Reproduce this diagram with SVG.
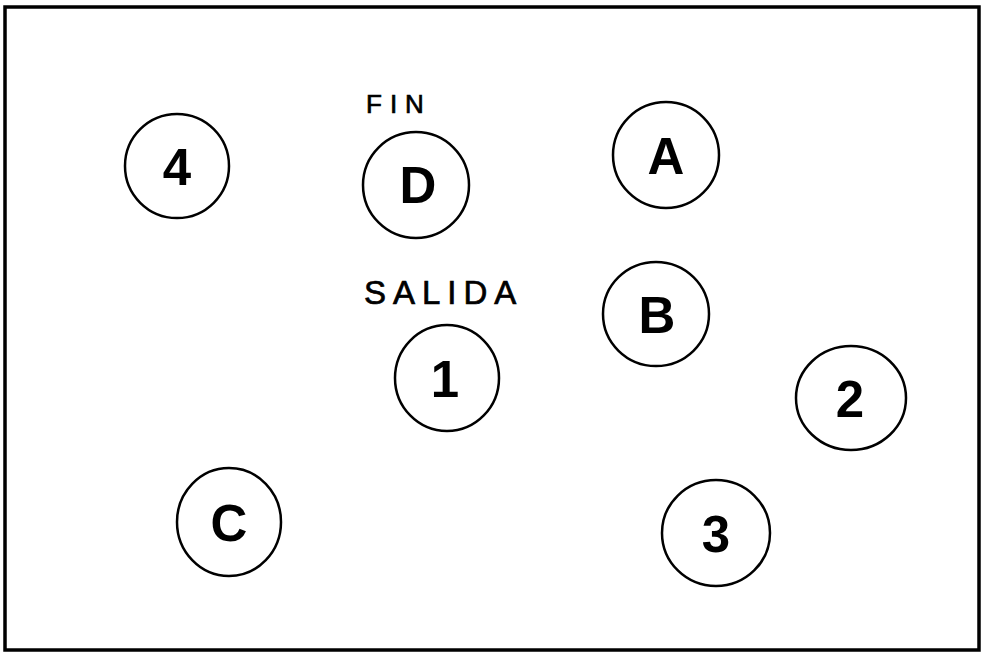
<svg xmlns="http://www.w3.org/2000/svg" width="982" height="653" viewBox="0 0 982 653">
<style>
.node ellipse{fill:#fff;stroke:#000;stroke-width:2.5}
.node text{font-family:"Liberation Sans",Arial,sans-serif;font-weight:bold;font-size:51px;text-anchor:middle;fill:#000}
.lbl{font-family:"Liberation Sans",Arial,sans-serif;fill:#000;stroke:#000;stroke-width:0.7}
</style>
<rect x="0" y="0" width="982" height="653" fill="#fff"/>
<rect x="5" y="7" width="974" height="643" fill="none" stroke="#000" stroke-width="3.5"/>
<g id="connectors"></g>
<text class="lbl" x="366" y="113" font-size="26" letter-spacing="8">FIN</text>
<text class="lbl" x="364" y="304" font-size="33" letter-spacing="7">SALIDA</text>
<g id="node-4" class="node"><ellipse cx="177" cy="166" rx="52" ry="52"/><text x="177" y="185">4</text></g>
<g id="node-D" class="node"><ellipse cx="416" cy="185" rx="53" ry="53"/><text x="418" y="203">D</text></g>
<g id="node-A" class="node"><ellipse cx="666" cy="155" rx="53" ry="53"/><text x="666" y="174">A</text></g>
<g id="node-B" class="node"><ellipse cx="656" cy="314" rx="53" ry="52"/><text x="657" y="333">B</text></g>
<g id="node-1" class="node"><ellipse cx="447" cy="378" rx="52" ry="53"/><text x="445" y="397">1</text></g>
<g id="node-2" class="node"><ellipse cx="851" cy="398" rx="55" ry="52"/><text x="850" y="417">2</text></g>
<g id="node-C" class="node"><ellipse cx="229" cy="522" rx="52" ry="54"/><text x="229" y="541">C</text></g>
<g id="node-3" class="node"><ellipse cx="716" cy="533" rx="54" ry="53"/><text x="716" y="552">3</text></g>
</svg>
